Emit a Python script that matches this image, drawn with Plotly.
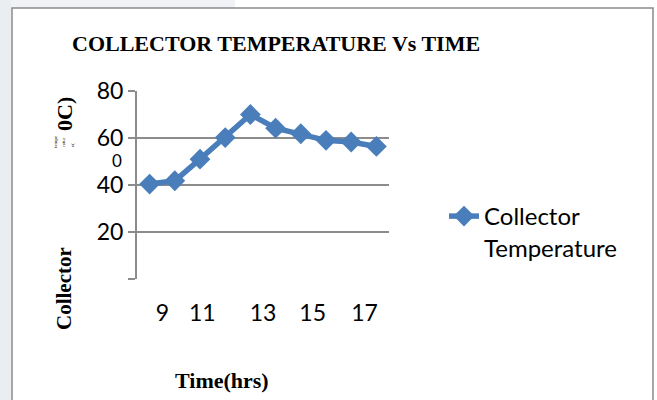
import plotly.graph_objects as go

# ---- data ----
hours = [8, 9, 10, 11, 12, 13, 14, 15, 16, 17]
collector_temp = [40.4, 41.8, 51.0, 60.2, 70.0, 64.2, 61.8, 59.0, 58.3, 56.4]
x_tick_labels = ["9", "11", "13", "15", "17"]
y_tick_values = [0, 20, 40, 60, 80]
y_tick_labels = ["", "20", "40", "60", "80"]

# ---- layout geometry (pixels) ----
W, H = 657, 400
PL, PR, PT, PB = 137, 389, 91, 279
x_tick_pos = [8.51, 10.09, 12.50, 14.47, 16.53]


def px(x, y):
    return (x - PL) / (PR - PL), (PB - y) / (PB - PT)


BLUE = "#4A7EBB"
GRID = "#8C8C8C"
SERIF = "Liberation Serif, Times New Roman, serif"
SANS = "Lato, Carlito, Calibri, sans-serif"

fig = go.Figure()
fig.add_trace(go.Scatter(
    x=hours, y=collector_temp, mode="lines+markers",
    name="Collector<br>Temperature",
    line=dict(color=BLUE, width=5.5),
    marker=dict(symbol="diamond", size=16, color=BLUE),
))

annotations = []


def ann(text, x, y, size, font=SERIF, angle=0, bold=False, color="black"):
    xp, yp = px(x, y)
    annotations.append(dict(
        text=("<b>%s</b>" % text) if bold else text,
        x=xp, y=yp, xref="paper", yref="paper",
        xanchor="center", yanchor="middle", showarrow=False,
        textangle=angle, font=dict(family=font, size=size, color=color),
    ))


ann("COLLECTOR TEMPERATURE Vs TIME", 276, 43, 22, bold=True)
ann("Time(hrs)", 222, 381, 22, bold=True)
ann("Collector", 64, 289, 21, angle=-90, bold=True)
ann("0C)", 64, 114, 22, angle=-90, bold=True)
ann("tempe", 55, 142, 5, angle=-90)
ann("ratur", 63, 142, 5, angle=-90)
ann("e(", 72, 145, 5, angle=-90)
ann("0", 117, 160, 17, font=SANS)

shapes = [
    # faint watermark outside frame
    dict(type="rect", xref="paper", yref="paper",
         x0=px(0, 0)[0], x1=px(11, 0)[0], y0=px(0, 400)[1], y1=px(0, 0)[1],
         fillcolor="#EBEEF1", line=dict(width=0), layer="below"),
    dict(type="rect", xref="paper", yref="paper",
         x0=px(11, 0)[0], x1=px(235, 0)[0], y0=px(0, 8)[1], y1=px(0, 0)[1],
         fillcolor="#F0F2F5", line=dict(width=0), layer="below"),
    # chart frame
    dict(type="rect", xref="paper", yref="paper",
         x0=px(12, 0)[0], x1=px(653, 0)[0], y0=px(0, 405)[1], y1=px(0, 8)[1],
         line=dict(color="#8A8A8A", width=1.5), layer="below"),
]

fig.update_layout(
    width=W, height=H,
    margin=dict(l=PL, r=W - PR, t=PT, b=H - PB),
    paper_bgcolor="white", plot_bgcolor="white",
    showlegend=True,
    legend=dict(x=px(444, 0)[0], y=px(0, 194)[1], xanchor="left", yanchor="top",
                font=dict(family=SANS, size=24, color="black"),
                valign="top", bgcolor="rgba(0,0,0,0)", itemwidth=30),
    xaxis=dict(range=[7.5, 17.5], tickvals=x_tick_pos, ticktext=x_tick_labels,
               showgrid=False, zeroline=False, showline=False, ticks="",
               tickfont=dict(family=SANS, size=23, color="black"),
               ticklabelstandoff=18, fixedrange=True),
    yaxis=dict(range=[0, 80], tickvals=y_tick_values, ticktext=y_tick_labels,
               showgrid=True, gridcolor=GRID, gridwidth=2,
               zeroline=False, showline=True, linecolor=GRID, linewidth=2,
               ticks="outside", ticklen=7, tickcolor=GRID, tickwidth=2,
               tickfont=dict(family=SANS, size=23, color="black"),
               ticklabelstandoff=0, fixedrange=True),
    annotations=annotations,
    shapes=shapes,
)

fig.write_html("out.html")
